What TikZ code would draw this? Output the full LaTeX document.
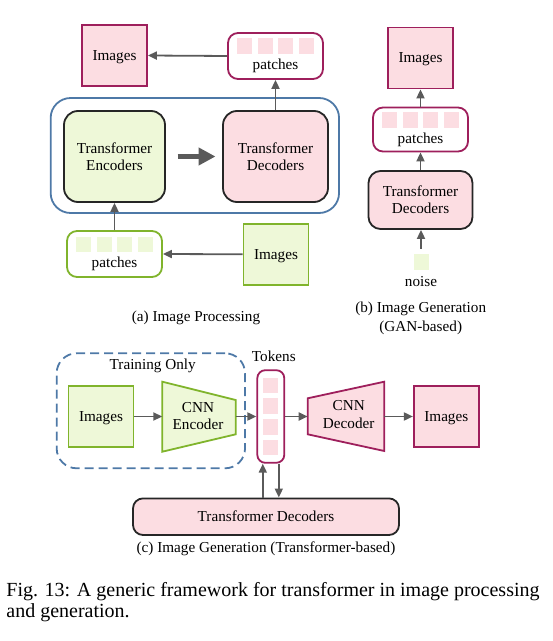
\documentclass[tikz,border=0pt]{standalone}
\usepackage{fontspec}
\setmainfont{Liberation Serif}
\usetikzlibrary{positioning, arrows.meta}

\definecolor{pinkfill}{HTML}{FCDDE2}
\definecolor{pinkline}{HTML}{9E1F5C}
\definecolor{greenfill}{HTML}{EEF8D8}
\definecolor{greenline}{HTML}{80B42C}
\definecolor{blueline}{HTML}{4E79A7}
\definecolor{arrowgray}{HTML}{5A5A5A}

\begin{document}
\begin{tikzpicture}[
            x=0.5pt, y=-0.5pt,
            every node/.style={font=\fontsize{7.6}{8.7}\selectfont},
            box/.style={draw, line width=0.9pt, inner sep=0pt},
            pinkbox/.style={box, draw=pinkline, fill=pinkfill},
            greenbox/.style={box, draw=greenline, fill=greenfill},
            imgbox/.style={minimum width=32.5pt, minimum height=30.5pt, text depth=0pt},
            trbox/.style={box, draw=black!85, rounded corners=7pt, align=center},
            patchbox/.style={box, fill=white, rounded corners=5pt, minimum width=47.5pt, minimum height=23pt},
            psq/.style={fill=pinkfill, minimum width=7.5pt, minimum height=7.8pt, inner sep=0pt},
            gsq/.style={fill=greenfill, minimum width=7.5pt, minimum height=7.8pt, inner sep=0pt},
            link/.style={draw=arrowgray, line width=0.9pt, -{Triangle[length=4.5pt,width=4pt]}},
        ]
            \useasboundingbox (0,0) rectangle (552,641);

            % (a) image processing
            \node[draw=blueline, line width=0.9pt, rounded corners=10pt, minimum width=144.2pt, minimum height=57.5pt] (ablock) at (194.85,155.5) {};
            \node[pinkbox, imgbox] (aout) at (114.5,55.5) {Images};
            \node[patchbox, draw=pinkline] (apatchout) at (275.5,56) {};
            \foreach \i in {0,...,3}
                \node[psq] (apo\i) at ({275.5-31.2+20.8*\i},46) {};
            \node (apotext) at (275.5,66) {patches};
            \node[trbox, fill=greenfill, minimum width=50.5pt, minimum height=45.5pt] (aenc) at (114.5,156.5) {Transformer\\Encoders};
            \node[trbox, fill=pinkfill, minimum width=52.5pt, minimum height=45.5pt] (adec) at (275.5,156.5) {Transformer\\Decoders};
            \node[patchbox, draw=greenline] (apatchin) at (114.5,254) {};
            \foreach \i in {0,...,3}
                \node[gsq] (api\i) at ({114.5-31.2+20.8*\i},244.7) {};
            \node (apitext) at (114.5,264) {patches};
            \node[greenbox, imgbox] (ain) at (276,254.3) {Images};
            \node (acap) at (196,317.7) {(a) Image Processing};

            \draw[line width=2.5pt, arrowgray, shorten <=5.8pt, shorten >=3.3pt, -{Triangle[length=8.5pt,width=8.5pt]}] (aenc) -- (adec);
            \draw[link] (adec.north) -- (apatchout.south);
            \draw[link] (apatchout.west) -- (aout.east);
            \draw[link] (ain.west) -- (apatchin.east);
            \draw[link] (apatchin.north) -- (aenc.south);

            % (b) image generation, GAN-based
            \node[pinkbox, imgbox] (bout) at (420.5,58) {Images};
            \node[patchbox, draw=pinkline, minimum height=22pt] (bpatch) at (420.5,129.5) {};
            \foreach \i in {0,...,3}
                \node[psq] (bp\i) at ({420.5-31.2+20.8*\i},120.2) {};
            \node (bptext) at (420.5,139.5) {patches};
            \node[trbox, fill=pinkfill, rounded corners=6pt, minimum width=52pt, minimum height=29pt] (bdec) at (420.5,200) {Transformer\\Decoders};
            \node[gsq] (bnoise) at (421,262) {};
            \node (bnoisetext) at (421,282) {noise};
            \node[align=center, font=\fontsize{7.6}{9.5}\selectfont] (bcap) at (420.7,318.8) {(b) Image Generation\\(GAN-based)};

            \draw[link, shorten <=2.5pt] (bnoise.north) -- (bdec.south -| bnoise);
            \draw[link] (bdec.north) -- (bpatch.south);
            \draw[link] (bpatch.north) -- (bout.south);

            % (c) image generation, transformer-based
            \node[draw=blueline, dash pattern=on 4.5pt off 2.5pt, line width=0.9pt, rounded corners=10pt, minimum width=94.2pt, minimum height=57.5pt] (ctrain) at (150.85,410.8) {};
            \node (ctraintext) at (152.7,366) {Training Only};
            \node[greenbox, imgbox] (cin) at (101,416.5) {Images};
            \filldraw[draw=greenline, fill=greenfill, line width=0.9pt] (162.3,381.7) -- (235.7,400) -- (235.7,434.3) -- (162.3,451.7) -- cycle;
            \coordinate (cenc-w) at (162.3,416.5);
            \coordinate (cenc-e) at (235.7,416.5);
            \node[align=center] (cenc) at (198,416) {CNN\\Encoder};
            \node[patchbox, draw=pinkline, minimum width=13.5pt, minimum height=46.3pt, rounded corners=4pt] (ctok) at (270.8,416.5) {};
            \foreach \i in {0,...,3}
                \node[psq] (ct\i) at (270.5,{416.5-30.9+20.6*\i}) {};
            \node (ctoktext) at (273.8,356) {Tokens};
            \filldraw[draw=pinkline, fill=pinkfill, line width=0.9pt] (307.7,398.3) -- (384.3,381.7) -- (384.3,451) -- (307.7,434.3) -- cycle;
            \coordinate (cdec-w) at (307.7,416.5);
            \coordinate (cdec-e) at (384.3,416.5);
            \node[align=center] (cdec) at (348.7,414.5) {CNN\\Decoder};
            \node[pinkbox, imgbox] (cout) at (446.3,416.5) {Images};
            \node[trbox, fill=pinkfill, rounded corners=5pt, minimum width=133pt, minimum height=18.3pt] (ctrans) at (266,516.7) {Transformer Decoders};
            \node (ccap) at (266,548.5) {(c) Image Generation (Transformer-based)};

            \draw[link] (cin.east) -- (cenc-w);
            \draw[link] (cenc-e) -- (ctok.west);
            \draw[link] (ctok.east) -- (cdec-w);
            \draw[link] (cdec-e) -- (cout.west);
            \draw[link] ([xshift=-4pt]ctok.south |- ctrans.north) -- ([xshift=-4pt]ctok.south);
            \draw[link] ([xshift=4pt]ctok.south) -- ([xshift=4pt]ctok.south |- ctrans.north);

            % figure caption
            \node[anchor=base west, inner sep=0pt, font=\fontsize{10}{12}\selectfont] (figa) at (6,596) {Fig. 13: A generic framework for transformer in image processing};
            \node[anchor=base west, inner sep=0pt, font=\fontsize{10}{12}\selectfont] (figb) at (6,617) {and generation.};
        \end{tikzpicture}
\end{document}
